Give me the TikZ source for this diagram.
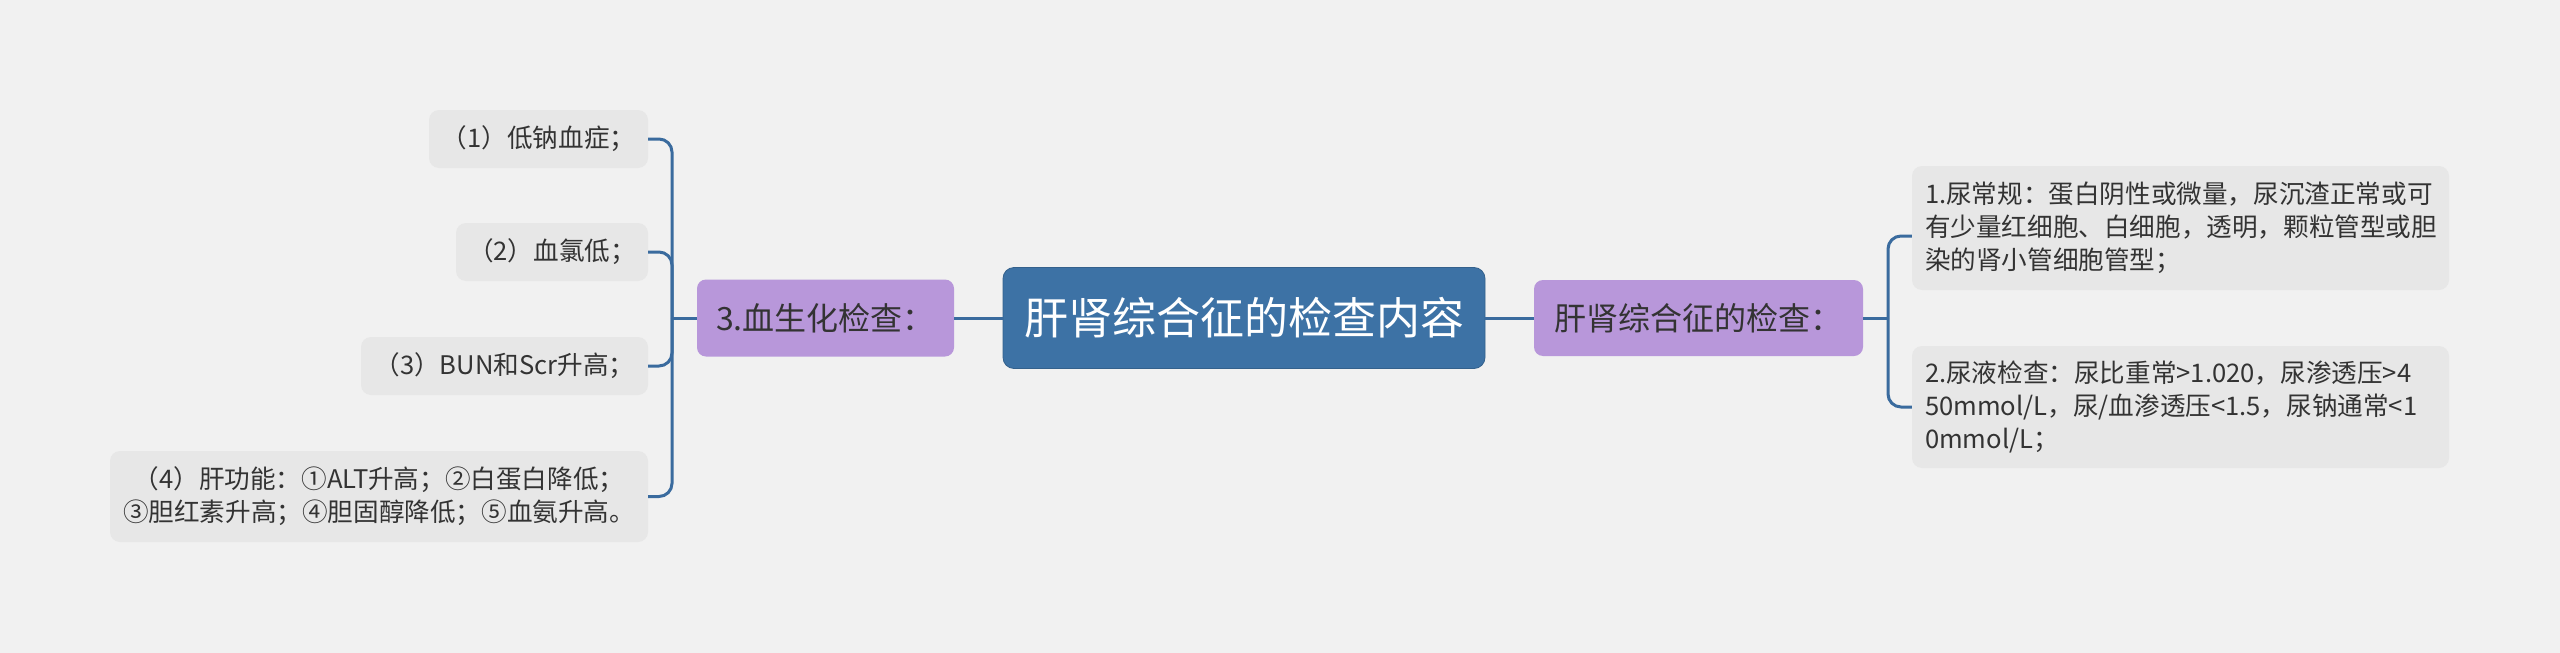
\documentclass[tikz,border=0pt]{standalone}
\usepackage{fontspec}
\setmainfont{Noto Sans CJK SC}
\definecolor{bg}{HTML}{F1F1F1}
\definecolor{leafc}{HTML}{E7E7E7}
\definecolor{purp}{HTML}{B897DA}
\definecolor{mainb}{HTML}{3D72A5}
\definecolor{linkc}{HTML}{3A6B9E}
\definecolor{txt}{HTML}{333333}
\begin{document}
\begin{tikzpicture}[x=1pt,y=-1pt,
  leafbox/.style={fill=leafc, rounded corners=10pt, text=txt, inner sep=0pt,
    font=\fontsize{25.6}{33}\selectfont},
  subbox/.style={fill=purp, rounded corners=9pt, text=txt, inner sep=0pt,
    font=\fontsize{32}{38}\selectfont},
  rootbox/.style={fill=mainb, draw=mainb!85!black, line width=0.8pt, rounded corners=11pt, text=white, inner sep=0pt,
    font=\fontsize{44}{50}\selectfont},
  conn/.style={draw=linkc, line width=3pt, rounded corners=13pt}]
\useasboundingbox (0,0) rectangle (2560,653);
\fill[bg] (0,0) rectangle (2560,653);

% root and main branches
\node[rootbox, minimum width=482pt, minimum height=101pt] (root) at (1244,318) {肝肾综合征的检查内容};
\node[subbox, minimum width=257pt, minimum height=77pt] (pL) at (825.5,318) {3.血生化检查：};
\node[subbox, minimum width=329pt, minimum height=76pt] (pR) at (1698.5,318) {肝肾综合征的检查：};

% left leaves
\node[leafbox, minimum width=219pt, minimum height=58pt] (L1) at (538.5,139) {（1）低钠血症；};
\node[leafbox, minimum width=192pt, minimum height=58pt] (L2) at (552,252) {（2）血氯低；};
\node[leafbox, minimum width=287pt, minimum height=58pt] (L3) at (504.5,366) {（3）BUN和Scr升高；};
\node[leafbox, minimum width=538pt, minimum height=91pt, align=center] (L4) at (379,496.5)
  {（4）肝功能：①ALT升高；②白蛋白降低；\\③胆红素升高；④胆固醇降低；⑤血氨升高。};

% right leaves
\node[leafbox, text width=511pt, inner xsep=13pt, minimum height=124pt, align=left] (R1) at (2180.5,228)
  {1.尿常规：蛋白阴性或微量，尿沉渣正常或可\\有少量红细胞、白细胞，透明，颗粒管型或胆\\染的肾小管细胞管型；};
\node[leafbox, text width=511pt, inner xsep=13pt, minimum height=122pt, align=left] (R2) at (2180.5,407)
  {2.尿液检查：尿比重常>1.020，尿渗透压>4\\50mmol/L，尿/血渗透压<1.5，尿钠通常<1\\0mmol/L；};

% connectors
\coordinate (jL) at (672,318);
\coordinate (jR) at (1888,318);
\draw[conn] (pL.east) -- (root.west);
\draw[conn] (root.east) -- (pR.west);
\draw[conn] (pL.west) -- (jL);
\draw[conn] (jL) |- (L1.east);
\draw[conn] (jL) |- (L2.east);
\draw[conn] (jL) |- (L3.east);
\draw[conn] (jL) |- (L4.east);
\draw[conn] (pR.east) -- (jR);
\draw[conn] (jR) |- ([yshift=-8pt]R1.west);
\draw[conn] (jR) |- (R2.west);
\end{tikzpicture}
\end{document}
